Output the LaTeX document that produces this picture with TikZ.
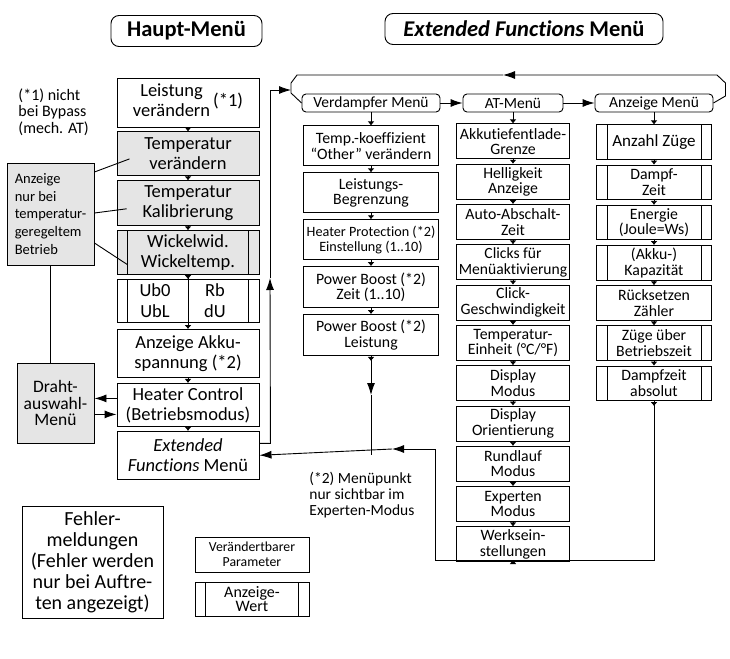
\documentclass[tikz,border=0pt]{standalone}
\usepackage{fontspec}
\setmainfont{Carlito}[Ligatures=NoCommon]
\usetikzlibrary{positioning,arrows.meta}

\tikzset{
  titlebox/.style={draw, line width=0.9pt, rounded corners=8pt, minimum height=31pt, inner sep=0pt,
    font=\bfseries\fontsize{22.5}{22.5}\selectfont},
  box/.style={draw, line width=0.9pt, fill=white, align=center, inner sep=0pt, minimum width=142pt,
    font=\fontsize{18.5}{20}\selectfont},
  graybox/.style={fill=black!10},
  valbox/.style={path picture={
    \draw[line width=0.9pt] ([xshift=10.5pt]path picture bounding box.north west) -- ([xshift=10.5pt]path picture bounding box.south west);
    \draw[line width=0.9pt] ([xshift=-10.5pt]path picture bounding box.north east) -- ([xshift=-10.5pt]path picture bounding box.south east);}},
  colbox/.style={draw, line width=0.9pt, fill=white, align=center, inner sep=0pt,
    font=\fontsize{15.8}{15.5}\selectfont},
  menuhd/.style={draw, line width=0.9pt, rounded corners=4pt, minimum height=18pt, inner sep=0pt,
    font=\fontsize{15.5}{15.5}\selectfont},
  smallarr/.style={-{Latex[length=4pt,width=7pt]}},
  note/.style={align=left, inner sep=0pt, anchor=west}
}

\begin{document}
\begin{tikzpicture}[x=1pt,y=-1pt,line width=0.9pt,>={Latex[length=12pt,width=8pt]}]
  \useasboundingbox (0,0) rectangle (730,658);

  % titles
  \node[titlebox, minimum width=151pt] (haupt) at (186.5,31) {Haupt-Menü};
  \node[titlebox, minimum width=278pt] (extt) at (524,29) {\textit{Extended Functions} Menü};

  % Haupt-Menü
  \node[box, minimum height=49pt] (leist) at (188,102.5)
    {\begin{tabular}{@{}c@{}}Leistung\\verändern\end{tabular}\,(*1)};
  \node[box, graybox, minimum height=44pt, below=4pt of leist] (tv) {Temperatur\\verändern};
  \node[box, graybox, minimum height=45pt, below=4pt of tv] (tk) {Temperatur\\Kalibrierung};
  \node[box, graybox, valbox, minimum height=44pt, below=4pt of tk] (wick) {Wickelwid.\\Wickeltemp.};
  \node[box, valbox, minimum height=43pt, below=4pt of wick] (ub) {};
  \node[box, minimum height=48pt, below=6pt of ub] (akku) {Anzeige Akku-\\spannung (*2)};
  \node[box, minimum height=43pt, below=5pt of akku] (heater) {Heater Control\\(Betriebsmodus)};
  \node[box, minimum height=48pt, below=4pt of heater] (ext) {\textit{Extended}\\\textit{Functions} Menü};
  \node[align=center, inner sep=0pt, font=\fontsize{18.5}{21}\selectfont] (ubl) at ([xshift=-33pt]ub.center) {Ub0\\UbL};
  \node[align=center, inner sep=0pt, font=\fontsize{18.5}{21}\selectfont] (ubr) at ([xshift=27pt]ub.center) {Rb\\dU};

  \path[smallarr]
    (leist) edge (tv)
    (tv) edge (tk)
    (tk) edge (wick)
    (wick) edge (ub)
    (wick) edge (akku)
    (akku) edge (heater)
    (heater) edge (ext);

  % left side
  \node[note, font=\fontsize{16}{16.5}\selectfont] (fn1) at (18,112) {(*1) nicht\\bei Bypass\\(mech. AT)};
  \node[draw, fill=black!10, align=left, inner sep=0pt, minimum width=87pt, minimum height=102pt,
    font=\fontsize{14.5}{17.75}\selectfont] (anz) at (50.5,214) {Anzeige\\nur bei\\temperatur-\\geregeltem\\Betrieb};
  \node[draw, fill=black!10, align=center, inner sep=0pt, minimum width=77pt, minimum height=80pt,
    font=\fontsize{17.5}{16.5}\selectfont] (draht) at (55.5,403) {Draht-\\auswahl-\\Menü};

  \draw ([yshift=42pt]anz.east) -- ([xshift=13pt,yshift=-5pt]tv.west);
  \draw ([yshift=1pt]anz.east) -- ([xshift=10pt,yshift=-5.5pt]tk.west);
  \draw ([yshift=-29pt]anz.east) -- ([xshift=11pt,yshift=-12pt]wick.west);
  \draw (anz.south) -- (anz.south |- draht.north);

  \coordinate (hd1) at ([yshift=6.5pt]heater.west);
  \coordinate (hd2) at ([yshift=-9.5pt]heater.west);
  \draw[->] (hd1) -- (hd1 -| draht.east);
  \draw[->] (hd2 -| draht.east) -- (hd2);

  % Extended Functions
  \node[menuhd, minimum width=138pt] (vdm) at (371,103) {Verdampfer Menü};
  \node[menuhd, minimum width=100pt] (atm) at (513,103) {AT-Menü};
  \node[menuhd, minimum width=118pt] (anm) at (654,103) {Anzeige Menü};
  \draw[->] (vdm) -- (atm);
  \draw[->] (atm) -- (anm);

  \node[colbox, minimum width=135pt, minimum height=40pt, below=13pt of vdm] (vd1) {Temp.-koeffizient\\“Other” verändern};
  \node[colbox, minimum width=135pt, minimum height=40pt, below=6pt of vd1] (vd2) {Leistungs-\\Begrenzung};
  \node[colbox, minimum width=135pt, minimum height=40pt, below=6pt of vd2,
    font=\fontsize{14.2}{15}\selectfont] (vd3) {Heater Protection (*2)\\Einstellung (1..10)};
  \node[colbox, minimum width=135pt, minimum height=41pt, below=6pt of vd3] (vd4) {Power Boost (*2)\\Zeit (1..10)};
  \node[colbox, minimum width=135pt, minimum height=41pt, below=6pt of vd4] (vd5) {Power Boost (*2)\\Leistung};

  \node[colbox, minimum width=113pt, minimum height=35pt, below=11pt of atm] (at1) {Akkutiefentlade-\\Grenze};
  \node[colbox, minimum width=113pt, minimum height=35pt, below=4.4pt of at1] (at2) {Helligkeit\\Anzeige};
  \node[colbox, minimum width=113pt, minimum height=35pt, below=4.4pt of at2] (at3) {Auto-Abschalt-\\Zeit};
  \node[colbox, minimum width=113pt, minimum height=35pt, below=4.4pt of at3,
    font=\fontsize{15.6}{15.5}\selectfont] (at4) {Clicks für\\Menüaktivierung};
  \node[colbox, minimum width=113pt, minimum height=35pt, below=4.4pt of at4] (at5) {Click-\\Geschwindigkeit};
  \node[colbox, minimum width=113pt, minimum height=35pt, below=4.4pt of at5] (at6) {Temperatur-\\Einheit (°C/°F)};
  \node[colbox, minimum width=113pt, minimum height=35pt, below=4.4pt of at6] (at7) {Display\\Modus};
  \node[colbox, minimum width=113pt, minimum height=35pt, below=4.4pt of at7] (at8) {Display\\Orientierung};
  \node[colbox, minimum width=113pt, minimum height=35pt, below=4.4pt of at8] (at9) {Rundlauf\\Modus};
  \node[colbox, minimum width=113pt, minimum height=35pt, below=4.4pt of at9] (at10) {Experten\\Modus};
  \node[colbox, minimum width=113pt, minimum height=35pt, below=4.4pt of at10] (at11) {Werksein-\\stellungen};

  \node[colbox, valbox, minimum width=115pt, minimum height=34.5pt, below=12pt of anm,
    font=\fontsize{17}{17}\selectfont] (az1) {Anzahl Züge};
  \node[colbox, valbox, minimum width=115pt, minimum height=34.5pt, below=4.8pt of az1] (az2) {Dampf-\\Zeit};
  \node[colbox, valbox, minimum width=115pt, minimum height=34.5pt, below=4.8pt of az2] (az3) {Energie\\(Joule=Ws)};
  \node[colbox, valbox, minimum width=115pt, minimum height=34.5pt, below=4.8pt of az3] (az4) {(Akku-)\\Kapazität};
  \node[colbox, minimum width=115pt, minimum height=34.5pt, below=4.8pt of az4] (az5) {Rücksetzen\\Zähler};
  \node[colbox, valbox, minimum width=115pt, minimum height=34.5pt, below=4.8pt of az5] (az6) {Züge über\\Betriebszeit};
  \node[colbox, valbox, minimum width=115pt, minimum height=34.5pt, below=4.8pt of az6] (az7) {Dampfzeit\\absolut};

  \path[smallarr]
    (vdm) edge (vd1) (vd1) edge (vd2) (vd2) edge (vd3) (vd3) edge (vd4) (vd4) edge (vd5)
    (atm) edge (at1) (at1) edge (at2) (at2) edge (at3) (at3) edge (at4) (at4) edge (at5)
    (at5) edge (at6) (at6) edge (at7) (at7) edge (at8) (at8) edge (at9) (at9) edge (at10)
    (at10) edge (at11)
    (anm) edge (az1) (az1) edge (az2) (az2) edge (az3) (az3) edge (az4) (az4) edge (az5)
    (az5) edge (az6) (az6) edge (az7);

  % bracket round the three menus
  \coordinate (brin) at (291,90);
  \coordinate (brtr) at (717,75);
  \coordinate (bra) at (503,75);
  \coordinate (brtl) at (297,75);
  \draw[->] (anm.east) -- ++(12,-7) -- ++(0,-13) -- (brtr) -- (bra);
  \draw (bra) -- (brtl) -- ++(-6,8) -- (brin) -- ++(0,3) -- (vdm.west);

  % Haupt-Menü -> Extended Functions
  \coordinate (ext1) at ([yshift=12pt]ext.east);
  \coordinate (lp) at ([xshift=11pt]ext1);
  \coordinate (lpm) at (270,278);
  \draw[->] (ext1) -- (lp) -- (lpm);
  \draw[->] (lpm) |- (brin);

  % back to Haupt-Menü
  \coordinate (c2) at (435,560);
  \coordinate (ah) at (392,449);
  \coordinate (ah2) at (vd5.south |- 0,395);
  \coordinate (vdj) at (vd5.south |- ext.east);
  \draw[smallarr] (az7.south) -- ++(0,5);
  \draw[->] (az7.south) |- (c2) |- (ah);
  \draw[->] (ah) -- (ext.east);
  \draw[smallarr] (vd5.south) -- ++(0,5);
  \draw[->] (vd5.south) -- (ah2);
  \draw (ah2) -- (vdj);
  \draw[smallarr] (at11.south) -- (at11.south |- c2);

  \node[note, font=\fontsize{15.5}{16}\selectfont] (fn2) at (309,495) {(*2) Menüpunkt\\nur sichtbar im\\Experten-Modus};

  % Fehler and legend
  \node[draw, align=center, inner sep=0pt, minimum width=141pt, minimum height=112pt,
    font=\fontsize{20}{21}\selectfont] (fehler) at (92.5,562) {Fehler-\\meldungen\\(Fehler werden\\nur bei Auftre-\\ten angezeigt)};
  \node[box, minimum width=114pt, minimum height=35pt, font=\fontsize{13.8}{15.5}\selectfont] (legp) at (252,554.5) {Verändertbarer\\Parameter};
  \node[box, valbox, minimum width=114pt, minimum height=34pt, font=\fontsize{16}{14.5}\selectfont] (legw) at (252,599) {Anzeige-\\Wert};
\end{tikzpicture}
\end{document}
